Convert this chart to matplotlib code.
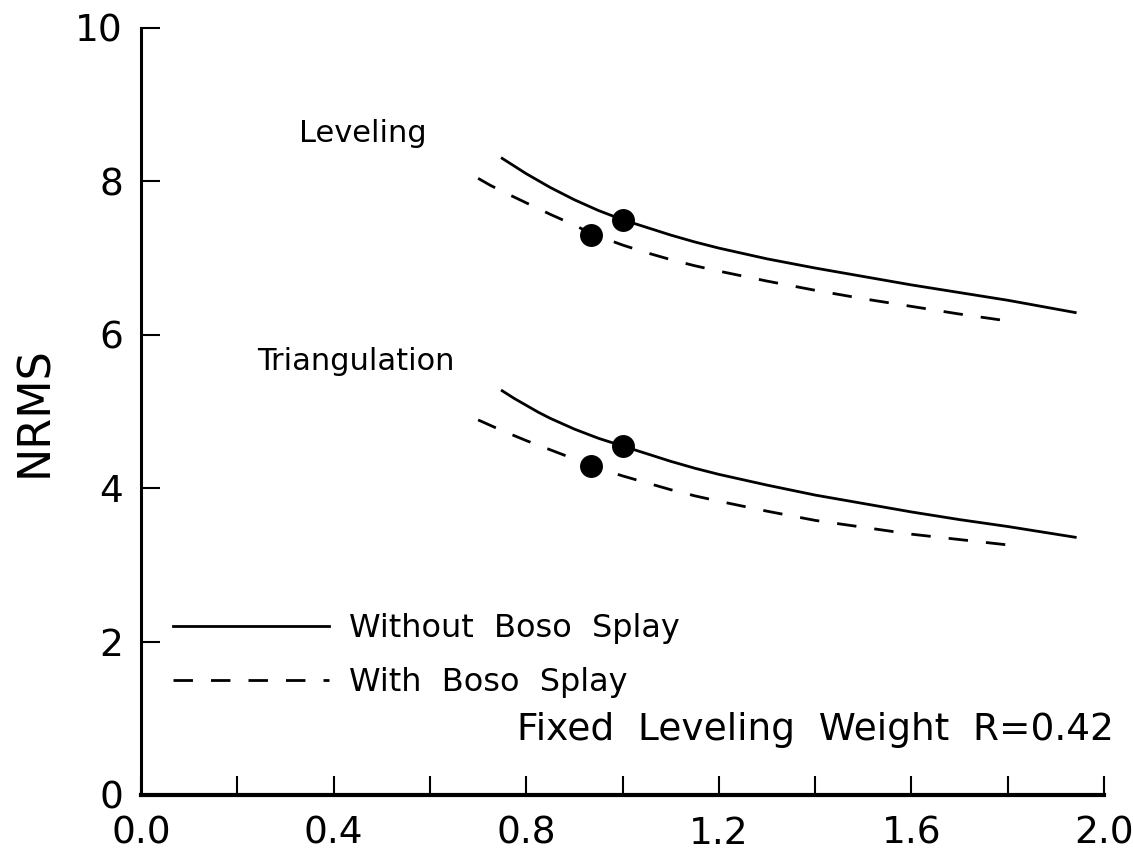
import numpy as np
import matplotlib.pyplot as plt

plt.rcParams['font.family'] = ['DejaVu Sans']

# Leveling curves
lev_x = [0.75, 0.775, 0.80, 0.825, 0.85, 0.90, 0.95, 1.00, 1.05, 1.10, 1.15,
         1.20, 1.30, 1.40, 1.50, 1.60, 1.70, 1.80, 1.94]
lev_y = [8.30, 8.20, 8.10, 8.01, 7.92, 7.76, 7.62, 7.50, 7.40, 7.30, 7.21,
         7.13, 6.99, 6.87, 6.76, 6.65, 6.55, 6.45, 6.29]
lev_splay_x = [0.70, 0.725, 0.75, 0.80, 0.85, 0.90, 0.935, 1.00, 1.05, 1.10,
               1.15, 1.20, 1.30, 1.40, 1.50, 1.60, 1.70, 1.80]
lev_splay_y = [8.04, 7.95, 7.87, 7.72, 7.57, 7.43, 7.32, 7.17, 7.07, 6.98,
               6.90, 6.83, 6.70, 6.58, 6.47, 6.37, 6.27, 6.18]

# Triangulation curves
tri_x = [0.75, 0.775, 0.80, 0.825, 0.85, 0.90, 0.95, 1.00, 1.05, 1.10, 1.15,
         1.20, 1.30, 1.40, 1.50, 1.60, 1.70, 1.80, 1.94]
tri_y = [5.27, 5.17, 5.08, 4.99, 4.91, 4.77, 4.65, 4.55, 4.45, 4.35, 4.26,
         4.18, 4.04, 3.91, 3.80, 3.69, 3.59, 3.50, 3.36]
tri_splay_x = [0.70, 0.725, 0.75, 0.80, 0.85, 0.90, 0.935, 1.00, 1.05, 1.10,
               1.15, 1.20, 1.30, 1.40, 1.50, 1.60, 1.70, 1.80]
tri_splay_y = [4.89, 4.82, 4.75, 4.62, 4.50, 4.38, 4.29, 4.16, 4.07, 3.98,
               3.90, 3.83, 3.70, 3.58, 3.49, 3.40, 3.33, 3.26]

# marked solutions
dot_x = [1.00, 0.935, 1.00, 0.935]
dot_y = [7.50, 7.30, 4.55, 4.29]

fig = plt.figure(figsize=(11.33, 8.56), dpi=100)
ax = fig.add_axes([0.1245, 0.0713, 0.85, 0.896])

dash = (7, 6.5)
kw = dict(color='black', lw=2, solid_joinstyle='round')
ax.plot(lev_x, lev_y, label='Without  Boso  Splay', **kw)
ax.plot(lev_splay_x, lev_splay_y, dashes=dash, label='With  Boso  Splay', **kw)
ax.plot(tri_x, tri_y, **kw)
ax.plot(tri_splay_x, tri_splay_y, dashes=dash, **kw)
ax.scatter(dot_x, dot_y, s=240, color='black', zorder=5)

ax.text(0.46, 8.63, 'Leveling', fontsize=22, ha='center', va='center')
ax.text(0.447, 5.65, 'Triangulation', fontsize=22, ha='center', va='center')
ax.text(2.02, 0.85, 'Fixed  Leveling  Weight  R=0.42', fontsize=27,
        ha='right', va='center')

leg = ax.legend(loc='upper left', bbox_to_anchor=(0.033, 0.237),
                frameon=False, fontsize=23, handlelength=4.9,
                handletextpad=0.6, labelspacing=0.72,
                borderpad=0, borderaxespad=0)

ax.set_xlim(0, 2.0)
ax.set_ylim(0, 10)
ax.set_xticks(np.arange(0, 2.01, 0.4))
ax.set_xticks(np.arange(0, 2.01, 0.2), minor=True)
ax.set_xticklabels(['0.0', '0.4', '0.8', '1.2', '1.6', '2.0'])
ax.set_yticks([0, 2, 4, 6, 8, 10])
ax.set_ylabel('NRMS', fontsize=32, labelpad=14)

for side in ['top', 'right']:
    ax.spines[side].set_visible(False)
ax.spines['left'].set_linewidth(2.2)
ax.spines['bottom'].set_linewidth(3)
ax.tick_params(axis='both', which='both', direction='in', length=14,
               width=1.5, labelsize=27)
ax.tick_params(axis='x', which='both', pad=15)
ax.tick_params(axis='y', pad=13)

fig.savefig('out.png', dpi=100)
